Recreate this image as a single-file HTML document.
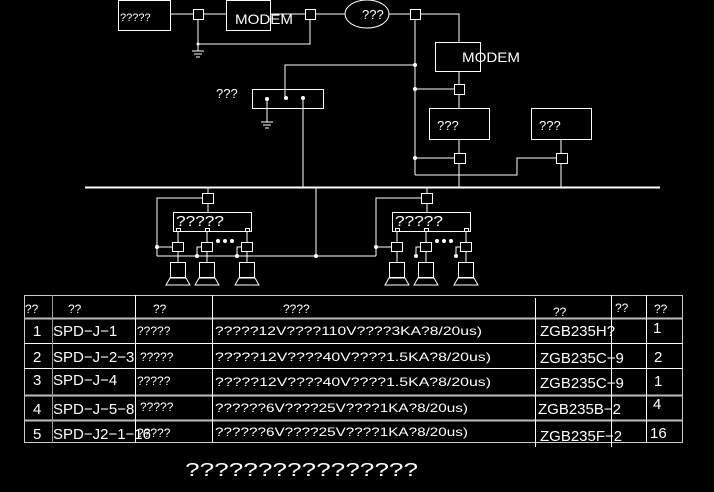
<!DOCTYPE html>
<html><head><meta charset="utf-8"><style>
html,body{margin:0;padding:0;background:#000;width:714px;height:492px;overflow:hidden}
svg{display:block}
text{font-family:"Liberation Sans",sans-serif;fill:#fff;font-weight:normal}
</style></head><body>
<svg width="714" height="492" viewBox="0 0 714 492" xmlns="http://www.w3.org/2000/svg">
<g stroke="#fff" stroke-width="1" fill="none">
<!-- top chain -->
<rect x="118.5" y="0.5" width="52" height="30"/>
<line x1="170" y1="14" x2="193" y2="14"/>
<rect x="193.5" y="9.5" width="10" height="10"/>
<line x1="203" y1="14" x2="226" y2="14"/>
<rect x="226.5" y="0.5" width="44" height="30"/>
<line x1="270" y1="14" x2="305" y2="14"/>
<rect x="305.5" y="9.5" width="10" height="10"/>
<line x1="315" y1="14" x2="345" y2="14"/>
<ellipse cx="367" cy="14" rx="22" ry="14"/>
<line x1="389" y1="14" x2="410" y2="14"/>
<rect x="410.5" y="9.5" width="10" height="10"/>
<polyline points="420,14 459,14 459,42"/>
<!-- ground left -->
<polyline points="198,19 198,44 310,44 310,19"/>
<line x1="198" y1="44" x2="198" y2="51"/>
<line x1="192" y1="51" x2="204" y2="51"/><line x1="194" y1="54" x2="202" y2="54"/><line x1="196" y1="57" x2="200" y2="57"/>
<!-- right modem -->
<rect x="435.5" y="42.5" width="45" height="29"/>
<line x1="459" y1="71" x2="459" y2="85"/>
<rect x="454.5" y="84.5" width="10" height="10"/>
<line x1="459" y1="94" x2="459" y2="108"/>
<rect x="429.5" y="108.5" width="60" height="31"/>
<rect x="531.5" y="108.5" width="60" height="31"/>
<line x1="459" y1="139" x2="459" y2="153"/>
<rect x="454.5" y="153.5" width="11" height="10"/>
<line x1="561" y1="139" x2="561" y2="153"/>
<rect x="556.5" y="153.5" width="11" height="10"/>
<line x1="459" y1="163" x2="459" y2="187"/>
<line x1="561" y1="163" x2="561" y2="187"/>
<line x1="415" y1="19" x2="415" y2="175"/>
<polyline points="415,175 517,175 517,158 556,158"/>
<line x1="415" y1="158" x2="454" y2="158"/>
<line x1="415" y1="89" x2="454" y2="89"/>
<polyline points="415,65 285,65 285,98"/>
<!-- middle box -->
<rect x="252.5" y="89.5" width="71" height="19"/>
<line x1="267" y1="99" x2="267" y2="122"/>
<line x1="261" y1="122" x2="273" y2="122"/><line x1="263" y1="125" x2="271" y2="125"/><line x1="265" y1="128" x2="269" y2="128"/>
<line x1="303" y1="98" x2="303" y2="187"/>
<!-- bus -->
<line x1="85" y1="187.5" x2="660" y2="187.5" stroke-width="2"/>
<line x1="316" y1="187" x2="316" y2="256"/>
<line x1="157" y1="256" x2="376" y2="256"/>
</g>
<g fill="#fff">
<circle cx="415" cy="65" r="2"/><circle cx="415" cy="89" r="2"/><circle cx="415" cy="158" r="2"/>
<circle cx="198" cy="44" r="1.5"/>
<circle cx="267" cy="99" r="2"/><circle cx="286" cy="98" r="2"/><circle cx="303" cy="98" r="2"/>
<circle cx="316" cy="256" r="2"/>
</g>
<!-- groups -->
<defs>
<g id="grp">
<g stroke="#fff" stroke-width="1" fill="none">
<line x1="208" y1="187" x2="208" y2="193"/>
<rect x="202.5" y="193.5" width="11" height="10"/>
<line x1="208" y1="203" x2="208" y2="212"/>
<rect x="173.5" y="212.5" width="78" height="19"/>
<rect x="176.5" y="228.5" width="4" height="3"/><rect x="205.5" y="228.5" width="4" height="3"/><rect x="245.5" y="228.5" width="4" height="3"/>
<polyline points="202,198 157,198 157,256"/>
<line x1="157" y1="247" x2="172" y2="247"/>
<line x1="178" y1="231" x2="178" y2="242"/>
<rect x="172.5" y="242.5" width="11" height="9"/>
<line x1="207" y1="231" x2="207" y2="242"/>
<rect x="201.5" y="242.5" width="11" height="9"/>
<polyline points="201,247 197,247 197,256"/>
<line x1="247" y1="231" x2="247" y2="242"/>
<rect x="241.5" y="242.5" width="11" height="9"/>
<polyline points="241,247 237,247 237,256"/>
<line x1="178" y1="251" x2="178" y2="262"/>
<line x1="207" y1="251" x2="207" y2="262"/>
<line x1="247" y1="251" x2="247" y2="262"/>
<rect x="170.5" y="262.5" width="15" height="15"/><polygon points="170,278 186,278 190,285 166,285"/>
<rect x="199.5" y="262.5" width="15" height="15"/><polygon points="199,278 215,278 219,285 195,285"/>
<rect x="239.5" y="262.5" width="15" height="15"/><polygon points="239,278 255,278 259,285 235,285"/>
</g>
<g fill="#fff"><circle cx="157" cy="247" r="2"/><circle cx="197" cy="256" r="2"/><circle cx="237" cy="256" r="2"/>
<circle cx="218" cy="241" r="2"/><circle cx="225" cy="241" r="2"/><circle cx="232" cy="241" r="2"/></g>
<text x="176" y="226" font-size="15" textLength="48" lengthAdjust="spacingAndGlyphs">?????</text>
</g>
</defs>
<use href="#grp"/>
<use href="#grp" transform="translate(219,0)"/>
<!-- labels -->
<text x="120" y="21" font-size="11">?????</text>
<text x="235" y="24" font-size="14" textLength="58" lengthAdjust="spacingAndGlyphs">MODEM</text>
<text x="362" y="19" font-size="13">???</text>
<text x="462" y="62" font-size="14" textLength="58" lengthAdjust="spacingAndGlyphs">MODEM</text>
<text x="216" y="98" font-size="13">???</text>
<text x="437" y="130" font-size="13">???</text>
<text x="539" y="130" font-size="13">???</text>
<!-- table -->
<g stroke="#fff" stroke-width="1" fill="none">
<rect x="24.5" y="295.5" width="658" height="147" stroke="#ccc"/>
<line x1="24" y1="318.5" x2="683" y2="318.5" stroke="#bbb" stroke-width="2"/>
<line x1="24" y1="343.5" x2="683" y2="343.5"/>
<line x1="24" y1="368.5" x2="683" y2="368.5"/>
<line x1="24" y1="395.5" x2="683" y2="395.5" stroke="#bbb" stroke-width="2"/>
<line x1="24" y1="420.5" x2="683" y2="420.5" stroke="#bbb" stroke-width="2"/>
<line x1="52.5" y1="295" x2="52.5" y2="443" stroke="#999"/>
<line x1="135.5" y1="295" x2="135.5" y2="443"/>
<line x1="212.5" y1="295" x2="212.5" y2="443"/>
<line x1="535.5" y1="298" x2="535.5" y2="447"/>
<line x1="611.5" y1="295" x2="611.5" y2="447"/>
<line x1="646.5" y1="295" x2="646.5" y2="443"/>
</g>
<g font-size="12">
<text x="25" y="313">??</text><text x="68" y="313">??</text><text x="153" y="313">??</text><text x="283" y="313">????</text>
<text x="553" y="316">??</text><text x="615" y="312">??</text><text x="654" y="313">??</text>
</g>
<g font-size="15">
<text x="33" y="336">1</text><text x="53" y="336">SPD−J−1</text>
<text x="33" y="362">2</text><text x="53" y="362">SPD−J−2−3</text>
<text x="33" y="385">3</text><text x="53" y="385">SPD−J−4</text>
<text x="33" y="414">4</text><text x="53" y="414">SPD−J−5−8</text>
<text x="33" y="439">5</text><text x="53" y="439">SPD−J2−1−16</text>
<text x="540" y="336">ZGB235H?</text>
<text x="540" y="363">ZGB235C−9</text>
<text x="540" y="388">ZGB235C−9</text>
<text x="538" y="414">ZGB235B−2</text>
<text x="540" y="441">ZGB235F−2</text>
<text x="653" y="333">1</text><text x="654" y="362">2</text><text x="654" y="386">1</text>
<text x="653" y="409">4</text><text x="650" y="438">16</text>
</g>
<g font-size="12">
<text x="137" y="335">?????</text><text x="140" y="361">?????</text><text x="137" y="385">?????</text>
<text x="140" y="411">?????</text><text x="137" y="437">?????</text>
<text x="215" y="335" textLength="267" lengthAdjust="spacingAndGlyphs">?????12V????110V????3KA?8/20us)</text>
<text x="215" y="361" textLength="276" lengthAdjust="spacingAndGlyphs">?????12V????40V????1.5KA?8/20us)</text>
<text x="215" y="386" textLength="276" lengthAdjust="spacingAndGlyphs">?????12V????40V????1.5KA?8/20us)</text>
<text x="215" y="412" textLength="253" lengthAdjust="spacingAndGlyphs">??????6V????25V????1KA?8/20us)</text>
<text x="215" y="436" textLength="253" lengthAdjust="spacingAndGlyphs">??????6V????25V????1KA?8/20us)</text>
</g>
<text x="185" y="476" font-size="18" textLength="233" lengthAdjust="spacingAndGlyphs">????????????????</text>
</svg>
</body></html>
